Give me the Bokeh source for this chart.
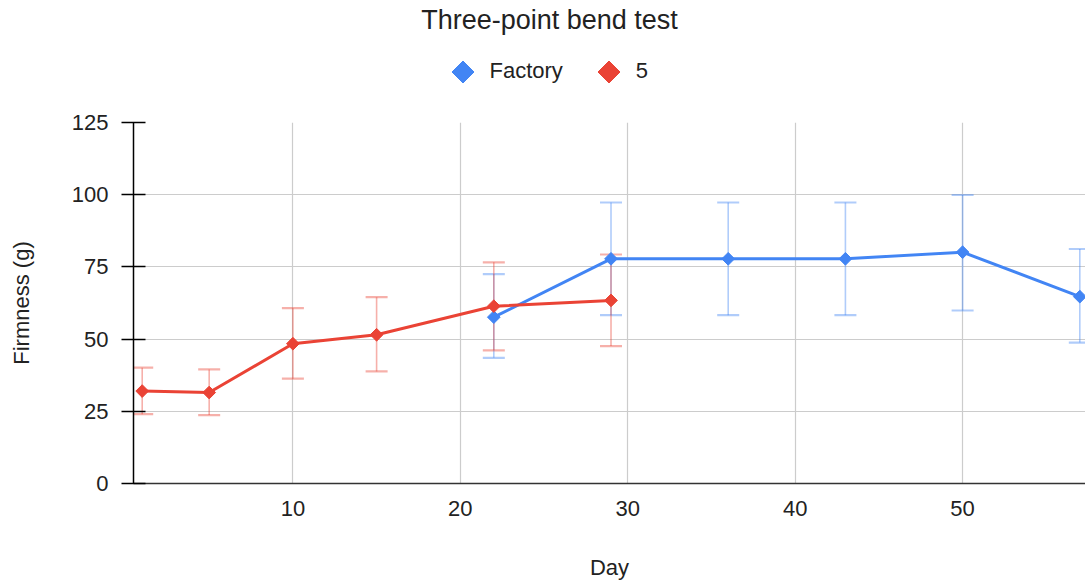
from bokeh.plotting import figure
from bokeh.models import (ColumnDataSource, Whisker, TeeHead, Legend, LegendItem,
                          FixedTicker, Range1d, Label)
from bokeh.layouts import column
from bokeh.embed import file_html
from bokeh.resources import INLINE
import math

# ---- data ----
days_factory = [22, 29, 36, 43, 50, 57]
firm_factory = [57.6, 77.8, 77.8, 77.8, 80.1, 64.7]
upper_factory = [72.5, 97.3, 97.3, 97.3, 99.9, 81.2]
lower_factory = [43.5, 58.3, 58.3, 58.3, 59.9, 48.8]

days_5 = [1, 5, 10, 15, 22, 29]
firm_5 = [32.0, 31.5, 48.4, 51.5, 61.4, 63.4]
upper_5 = [40.1, 39.5, 60.7, 64.5, 76.6, 79.3]
lower_5 = [24.0, 23.7, 36.3, 38.8, 46.1, 47.6]

series_names = ["Factory", "5"]
x_ticks = [10, 20, 30, 40, 50]
y_ticks = [0, 25, 50, 75, 100, 125]
title_text = "Three-point bend test"

BLUE = "#4285F4"
RED = "#EA4335"
FONT = "Liberation Sans"
TXT = "#222222"

LEFT = 133          # left border (frame start) shared by both rows
HEAD_H = 110
GLYPH = 55          # legend glyph box

# ---------- header (title + legend) ----------
head = figure(width=1085, height=HEAD_H, output_backend="svg", toolbar_location=None,
              x_range=Range1d(LEFT, 1085), y_range=Range1d(0, HEAD_H),
              x_axis_location=None, y_axis_location=None, min_border=0,
              min_border_left=LEFT, outline_line_color=None,
              background_fill_color="white", border_fill_color="white")
head.grid.visible = False

head.add_layout(Label(x=549, y=HEAD_H - 19, text=title_text, text_align="center",
                      text_baseline="middle", text_font=FONT, text_font_size="27px",
                      text_color=TXT))

nan = float("nan")
lg_f = head.ngon(x=[nan], y=[nan], radius=10, n=4,
                 fill_color=BLUE, line_color=BLUE)
lg_5 = head.ngon(x=[nan], y=[nan], radius=10, n=4,
                 fill_color=RED, line_color=RED)
legend = Legend(items=[LegendItem(label=series_names[0], renderers=[lg_f]),
                       LegendItem(label=series_names[1], renderers=[lg_5])],
                orientation="horizontal",
                location=(462 - GLYPH / 2 - LEFT, HEAD_H - 71 - GLYPH / 2),
                glyph_width=GLYPH, glyph_height=GLYPH, label_height=20,
                label_text_font=FONT, label_text_font_size="22px",
                label_text_color=TXT, label_standoff=0, spacing=18,
                padding=0, margin=0, border_line_color=None,
                background_fill_alpha=0)
head.add_layout(legend, "center")

# ---------- main chart ----------
p = figure(width=1085, height=584 - HEAD_H, output_backend="svg", toolbar_location=None,
           x_range=Range1d(0.48, 57.34), y_range=Range1d(0, 125),
           min_border_left=LEFT, min_border_right=0, min_border_top=122 - HEAD_H,
           min_border_bottom=101, outline_line_color=None,
           background_fill_color="white", border_fill_color="white")

src_f = ColumnDataSource(dict(x=days_factory, y=firm_factory, up=upper_factory, lo=lower_factory))
src_5 = ColumnDataSource(dict(x=days_5, y=firm_5, up=upper_5, lo=lower_5))

for src, col in ((src_f, BLUE), (src_5, RED)):
    w = Whisker(source=src, base="x", upper="up", lower="lo", dimension="height",
                line_color=col, line_alpha=0.42, line_width=1.6, level="underlay",
                upper_head=TeeHead(size=22, line_color=col, line_alpha=0.42, line_width=2.2),
                lower_head=TeeHead(size=22, line_color=col, line_alpha=0.42, line_width=2.2))
    p.add_layout(w)

p.line("x", "y", source=src_f, line_color=BLUE, line_width=3)
p.scatter("x", "y", source=src_f, marker="square", angle=math.pi / 4, size=9,
          fill_color=BLUE, line_color=BLUE)
p.line("x", "y", source=src_5, line_color=RED, line_width=3)
p.scatter("x", "y", source=src_5, marker="square", angle=math.pi / 4, size=9,
          fill_color=RED, line_color=RED)

# axes
p.xaxis.ticker = FixedTicker(ticks=x_ticks)
p.yaxis.ticker = FixedTicker(ticks=y_ticks)
p.xaxis.axis_label = "Day"
p.yaxis.axis_label = "Firmness (g)"
for ax in (p.xaxis, p.yaxis):
    ax.axis_label_text_font = FONT
    ax.axis_label_text_font_size = "22px"
    ax.axis_label_text_font_style = "normal"
    ax.axis_label_text_color = TXT
    ax.major_label_text_font = FONT
    ax.major_label_text_font_size = "22px"
    ax.major_label_text_color = TXT
    ax.minor_tick_line_color = None

p.xaxis.axis_line_color = "#333333"
p.xaxis.axis_line_width = 1.5
p.xaxis.major_tick_line_color = None
p.xaxis.major_label_standoff = 11
p.xaxis.axis_label_standoff = 36

p.yaxis.axis_line_color = "black"
p.yaxis.axis_line_width = 1.5
p.yaxis.major_tick_line_color = "black"
p.yaxis.major_tick_line_width = 1.5
p.yaxis.major_tick_in = 12
p.yaxis.major_tick_out = 12
p.yaxis.major_label_standoff = 13
p.yaxis.axis_label_standoff = 35

p.xgrid.ticker = FixedTicker(ticks=x_ticks)
p.ygrid.ticker = FixedTicker(ticks=y_ticks)
p.xgrid.grid_line_color = "#cccccc"
p.ygrid.grid_line_color = "#cccccc"
p.xgrid.grid_line_width = 1.2
p.ygrid.grid_line_width = 1.2

layout = column(head, p, spacing=0)
open("out.html", "w").write(file_html(layout, INLINE))
